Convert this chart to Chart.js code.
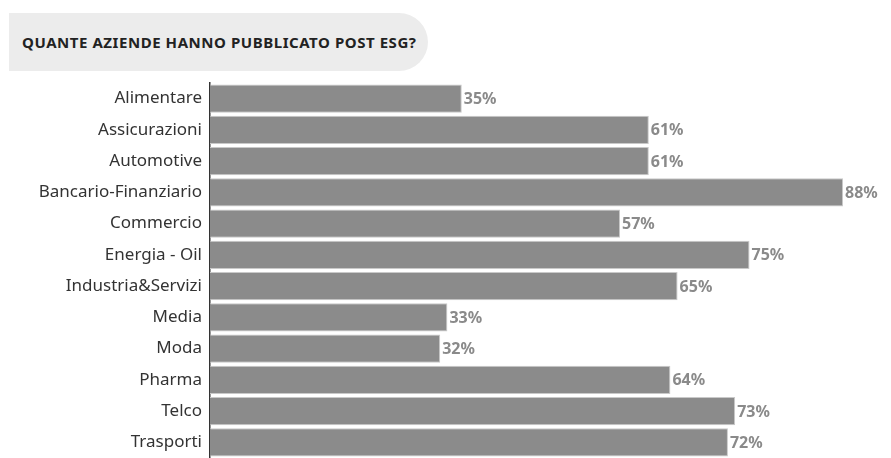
<!DOCTYPE html>
<html>
<head>
<meta charset="utf-8">
<script src="https://cdn.jsdelivr.net/npm/chart.js@4.4.0/dist/chart.umd.min.js"></script>
<style>
    html, body { margin: 0; padding: 0; background: #fff; }
    #wrap { position: relative; width: 891px; height: 458px; overflow: hidden; }
    #title {
        position: absolute; left: 9px; top: 13px; width: 419px; height: 58px;
        background: #ececec; border-radius: 0 29px 29px 0;
        font-family: "Noto Sans", sans-serif; font-weight: bold; font-size: 15px;
        letter-spacing: 0.55px;
        color: #222; line-height: 58px; padding-left: 13px; box-sizing: border-box;
        white-space: nowrap;
    }
    #vis { position: absolute; left: 0; top: 0; }
</style>
</head>
<body>
<div id="wrap">
    <canvas id="vis" width="891" height="458"></canvas>
    <div id="title">QUANTE AZIENDE HANNO PUBBLICATO POST ESG?</div>
</div>
<script>
// sectors and share of companies with ESG posts (%)
let sectors = ['Alimentare', 'Assicurazioni', 'Automotive', 'Bancario-Finanziario', 'Commercio',
    'Energia - Oil', 'Industria&Servizi', 'Media', 'Moda', 'Pharma', 'Telco', 'Trasporti']
let shares = [35, 61, 61, 88, 57, 75, 65, 33, 32, 64, 73, 72]

// draw the % labels after each bar
let valueLabels = {
    id: 'valueLabels',
    afterDatasetsDraw(chart) {
        let ctx = chart.ctx
        let meta = chart.getDatasetMeta(0)
        ctx.save()
        ctx.font = 'bold 16px "Noto Sans", sans-serif'
        ctx.fillStyle = '#8a8a8a'
        ctx.textAlign = 'left'
        ctx.textBaseline = 'middle'
        meta.data.forEach((bar, i) => {
            ctx.fillText(shares[i] + '%', bar.x + 2, bar.y + 1)
        })
        ctx.restore()
    }
}

new Chart('vis', {
    type: 'bar',
    data: {
        labels: sectors,
        datasets: [{
            data: shares,
            backgroundColor: '#8b8b8b',
            borderColor: '#c9c9c9',
            borderWidth: 1,
            barPercentage: 0.91,
            categoryPercentage: 1
        }]
    },
    options: {
        indexAxis: 'y',
        responsive: false,
        animation: false,
        layout: { padding: { top: 83, right: 12, bottom: 0, left: 0 } },
        plugins: { legend: { display: false }, tooltip: { enabled: false } },
        scales: {
            x: { display: false, min: 0, max: 93 },
            y: {
                afterFit(axis) {
                    axis.width = 210
                    axis.paddingTop = 0
                    axis.paddingBottom = 0
                },
                grid: { display: false },
                border: { display: true, color: '#333', width: 1.5 },
                ticks: {
                    color: '#333',
                    padding: 0,
                    font: { family: '"Noto Sans", sans-serif', size: 17 }
                }
            }
        }
    },
    plugins: [valueLabels]
})
</script>
</body>
</html>
